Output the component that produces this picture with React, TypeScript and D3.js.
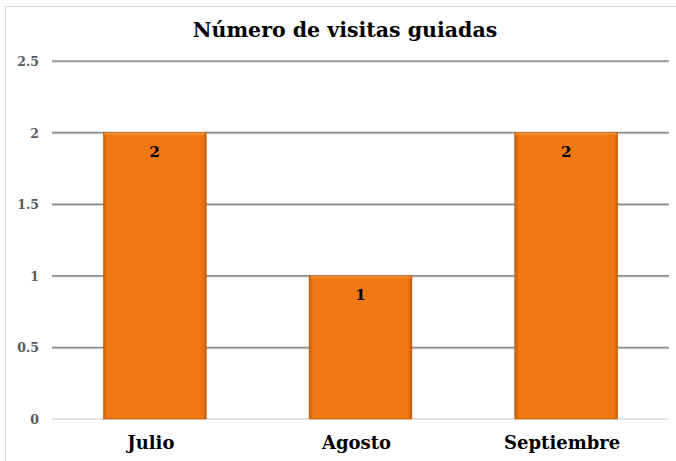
import React, { useEffect, useRef } from 'react';
import * as d3 from 'd3';

const months = ['Julio', 'Agosto', 'Septiembre'];
const visits = [2, 1, 2];
const yTicks = [0, 0.5, 1, 1.5, 2, 2.5];
const title = 'Número de visitas guiadas';

const W = 676;
const H = 461;
const FONT = '"DejaVu Serif", "Liberation Serif", serif';

export default function App() {
  const ref = useRef<SVGSVGElement>(null);

  useEffect(() => {
    const svg = d3.select(ref.current);
    svg.selectAll('*').remove();

    const margin = { left: 52, right: 7, top: 61, bottom: 42 };

    const x = d3.scaleBand()
      .domain(months)
      .range([margin.left, W - margin.right])
      .paddingInner(0.5)
      .paddingOuter(0.25);

    const y = d3.scaleLinear()
      .domain([0, 2.5])
      .range([H - margin.bottom, margin.top]);

    const defs = svg.append('defs');

    // orange bar with darker edges
    const grad = defs.append('linearGradient')
      .attr('id', 'barGrad')
      .attr('x1', 0).attr('x2', 1).attr('y1', 0).attr('y2', 0);
    grad.append('stop').attr('offset', '0%').attr('stop-color', '#c85f0c');
    grad.append('stop').attr('offset', '4%').attr('stop-color', '#ef7714');
    grad.append('stop').attr('offset', '96%').attr('stop-color', '#ef7714');
    grad.append('stop').attr('offset', '100%').attr('stop-color', '#c85f0c');

    const topGrad = defs.append('linearGradient')
      .attr('id', 'topGrad')
      .attr('x1', 0).attr('x2', 0).attr('y1', 0).attr('y2', 1);
    topGrad.append('stop').attr('offset', '0%').attr('stop-color', '#f9a04a').attr('stop-opacity', 0.9);
    topGrad.append('stop').attr('offset', '100%').attr('stop-color', '#ef7714').attr('stop-opacity', 0);

    // chart border
    svg.append('rect')
      .attr('x', 5.5).attr('y', 6.5)
      .attr('width', W + 10).attr('height', H + 10)
      .attr('fill', 'white')
      .attr('stroke', '#d9d9d9')
      .attr('stroke-width', 1);

    svg.append('text')
      .attr('x', 345)
      .attr('y', 37)
      .attr('text-anchor', 'middle')
      .attr('font-family', FONT)
      .attr('font-weight', 'bold')
      .attr('font-size', 20.5)
      .attr('fill', '#000')
      .text(title);

    // gridlines
    const grid = svg.append('g');
    yTicks.filter(t => t > 0).forEach(t => {
      grid.append('line')
        .attr('x1', margin.left).attr('x2', W - margin.right)
        .attr('y1', y(t) + 1).attr('y2', y(t) + 1)
        .attr('stroke', '#d0d0d0').attr('stroke-width', 1.5);
      grid.append('line')
        .attr('x1', margin.left).attr('x2', W - margin.right)
        .attr('y1', y(t)).attr('y2', y(t))
        .attr('stroke', '#8c8c8c').attr('stroke-width', 1.5);
    });
    grid.append('line')
      .attr('x1', margin.left).attr('x2', W - margin.right)
      .attr('y1', y(0)).attr('y2', y(0))
      .attr('stroke', '#d9d9d9').attr('stroke-width', 1.5);

    svg.append('g')
      .selectAll('text')
      .data(yTicks)
      .join('text')
      .attr('x', 39)
      .attr('y', d => y(d) + 5)
      .attr('text-anchor', 'end')
      .attr('font-family', FONT)
      .attr('font-weight', 'bold')
      .attr('font-size', 12.5)
      .attr('fill', '#595959')
      .text(d => String(d));

    // bars
    const bars = svg.append('g');
    bars.selectAll('rect.bar')
      .data(visits)
      .join('rect')
      .attr('class', 'bar')
      .attr('x', (d, i) => x(months[i])!)
      .attr('y', d => y(d))
      .attr('width', x.bandwidth())
      .attr('height', d => y(0) - y(d))
      .attr('fill', 'url(#barGrad)')
      .attr('stroke', '#b8590c')
      .attr('stroke-width', 0.6);
    bars.selectAll('rect.hl')
      .data(visits)
      .join('rect')
      .attr('class', 'hl')
      .attr('x', (d, i) => x(months[i])! + 1)
      .attr('y', d => y(d))
      .attr('width', x.bandwidth() - 2)
      .attr('height', 4)
      .attr('fill', 'url(#topGrad)');

    bars.selectAll('text')
      .data(visits)
      .join('text')
      .attr('x', (d, i) => x(months[i])! + x.bandwidth() / 2)
      .attr('y', d => y(d) + 24)
      .attr('text-anchor', 'middle')
      .attr('font-family', FONT)
      .attr('font-weight', 'bold')
      .attr('font-size', 15)
      .attr('fill', '#000')
      .text(d => String(d));

    svg.append('g')
      .selectAll('text')
      .data(months)
      .join('text')
      .attr('x', d => x(d)! + x.bandwidth() / 2 - 4)
      .attr('y', 449)
      .attr('text-anchor', 'middle')
      .attr('font-family', FONT)
      .attr('font-weight', 'bold')
      .attr('font-size', 18)
      .attr('fill', '#000')
      .text(d => d);
  }, []);

  return (
    <svg
      ref={ref}
      width={W}
      height={H}
      style={{ position: 'absolute', left: 0, top: 0, background: 'white' }}
    />
  );
}
